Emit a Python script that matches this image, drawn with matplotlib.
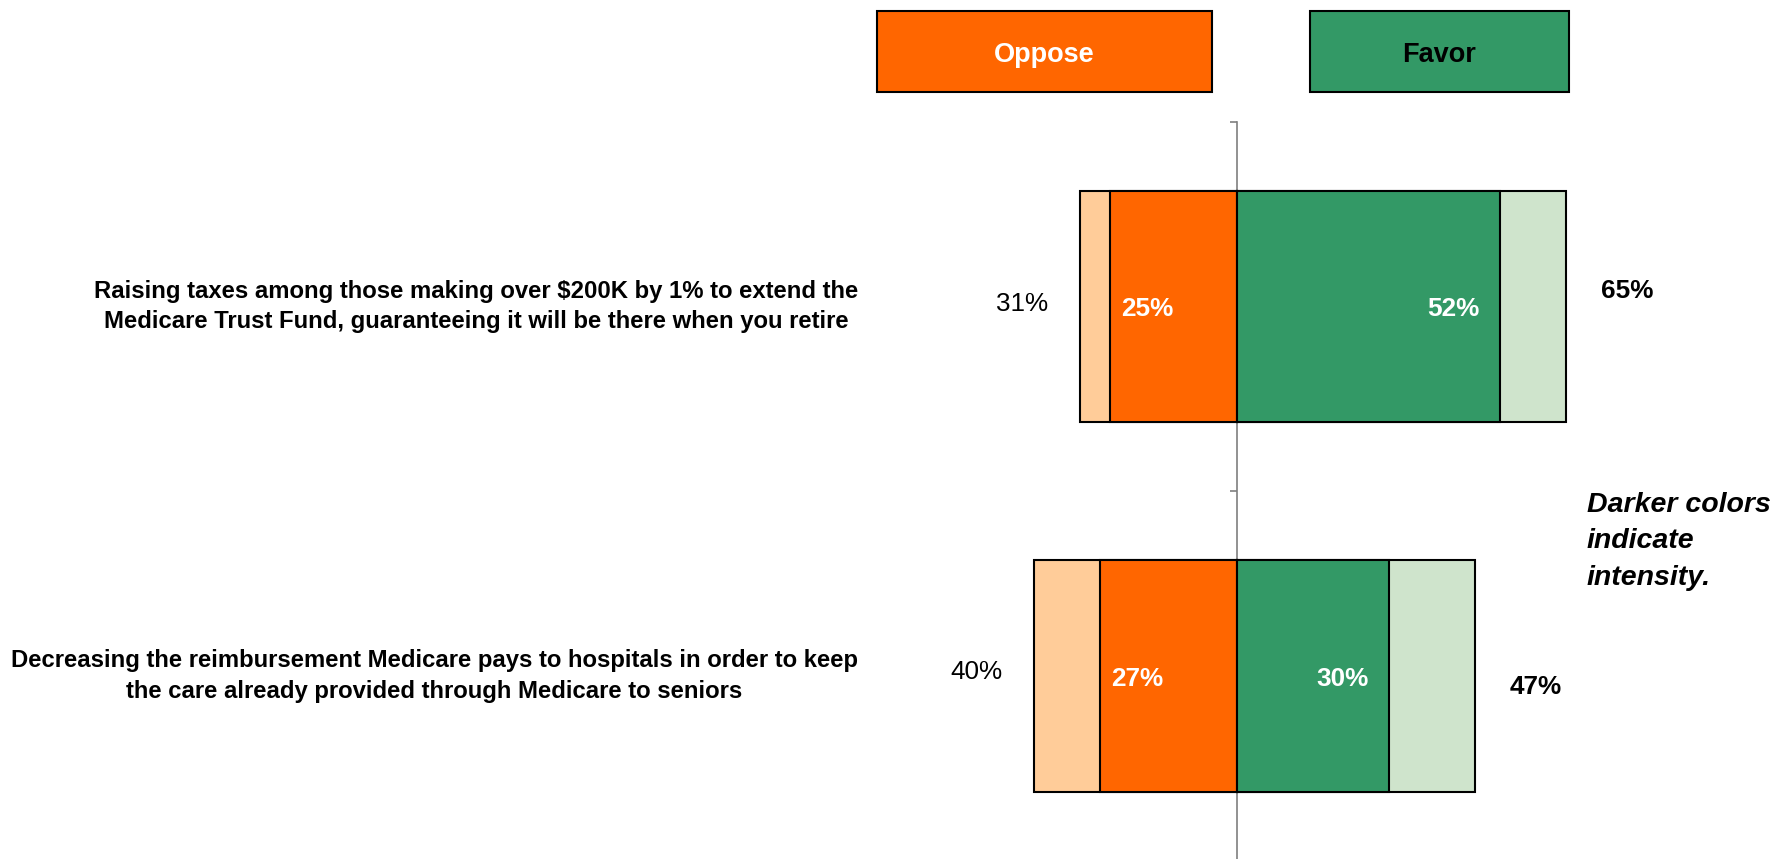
import matplotlib
matplotlib.use("Agg")
import matplotlib.pyplot as plt
from matplotlib.patches import Rectangle

plt.rcParams['font.family'] = ['Liberation Sans', 'DejaVu Sans']

# ---- data ----
categories = [
    "Raising taxes among those making over $200K by 1% to extend the\n"
    "Medicare Trust Fund, guaranteeing it will be there when you retire",
    "Decreasing the reimbursement Medicare pays to hospitals in order to keep\n"
    "the care already provided through Medicare to seniors",
]
strong_oppose = [25, 27]
total_oppose = [31, 40]
strong_favor = [52, 30]
total_favor = [65, 47]
series_names = ["Oppose", "Favor"]
note_text = "Darker colors\nindicate\nintensity."

# ---- style ----
DARK_OR = "#FF6600"
LIGHT_OR = "#FFCC99"
DARK_GR = "#339966"
LIGHT_GR = "#CFE4CC"
AXIS_GRAY = "#7F7F7F"

W, H = 1779, 859
fig = plt.figure(figsize=(W / 100, H / 100), dpi=100)

def fx(px):
    return px / W

def fy(py):
    return 1 - py / H

# axes: full width, y band from pixel 121.7 to 861
top_px, bot_px = 121.7, 861.0
ax = fig.add_axes([0, fy(bot_px), 1, (bot_px - top_px) / H])
ax.patch.set_visible(False)

px_per_unit = 5.06
center_px = 1236.7
ax.set_xlim(-center_px / px_per_unit, (W - center_px) / px_per_unit)
ax.set_ylim(0, len(categories))

n = len(categories)
ys = [n - i - 0.5 for i in range(n)]
bar_h = 0.626
ew = 1.5

ax.barh(ys, [-v for v in total_oppose], height=bar_h, color=LIGHT_OR,
        edgecolor="black", linewidth=ew, zorder=3)
ax.barh(ys, [-v for v in strong_oppose], height=bar_h, color=DARK_OR,
        edgecolor="black", linewidth=ew, zorder=4)
ax.barh(ys, total_favor, height=bar_h, color=LIGHT_GR,
        edgecolor="black", linewidth=ew, zorder=3)
ax.barh(ys, strong_favor, height=bar_h, color=DARK_GR,
        edgecolor="black", linewidth=ew, zorder=4)

# spines / ticks
for s in ["top", "right", "bottom"]:
    ax.spines[s].set_visible(False)
ax.spines["left"].set_position(("data", 0))
ax.spines["left"].set_color(AXIS_GRAY)
ax.spines["left"].set_linewidth(1.2)
ax.spines["left"].set_zorder(2)
ax.set_xticks([])
ax.set_yticks(range(n + 1))
ax.tick_params(axis="y", length=5, width=1.2, color=AXIS_GRAY,
               direction="out", labelleft=False)

fs = 18.8
# small vertical nudges (in points) of the favor-total labels, as in the original
favor_label_nudge = [11, -8]
oppose_label_nudge = [2, 3]
for i, y in enumerate(ys):
    ax.annotate(f"{total_oppose[i]}%", (-total_oppose[i] - 6.3, y),
                xytext=(0, oppose_label_nudge[i]), textcoords="offset points",
                ha="right", va="center", fontsize=fs, color="black", zorder=5)
    ax.annotate(f"{strong_oppose[i]}%", (-strong_oppose[i] + 2.2, y),
                xytext=(0, -2), textcoords="offset points",
                ha="left", va="center", fontsize=fs, color="white",
                fontweight="bold", zorder=5)
    ax.annotate(f"{strong_favor[i]}%", (strong_favor[i] - 4.0, y),
                xytext=(0, -2), textcoords="offset points",
                ha="right", va="center", fontsize=fs, color="white",
                fontweight="bold", zorder=5)
    ax.annotate(f"{total_favor[i]}%", (total_favor[i] + 7.0, y),
                xytext=(0, favor_label_nudge[i]), textcoords="offset points",
                ha="left", va="center", fontsize=fs, color="black",
                fontweight="bold", zorder=5)
    ax.text((858 - center_px) / px_per_unit, y, categories[i], ha="right",
            va="center", multialignment="center", fontsize=17.2,
            fontweight="bold", color="black", linespacing=1.42)

# legend boxes
boxes = [(877, 1212, DARK_OR, "white"), (1310, 1569, DARK_GR, "black")]
for (x0, x1, fc, tc), name in zip(boxes, series_names):
    y0, y1 = 11, 92
    fig.add_artist(Rectangle((fx(x0), fy(y1)), fx(x1) - fx(x0), fy(y0) - fy(y1),
                             transform=fig.transFigure, facecolor=fc,
                             edgecolor="black", linewidth=1.5))
    fig.text(fx((x0 + x1) / 2), fy(62.5), name, ha="center",
             va="baseline", fontsize=19.5, fontweight="bold", color=tc)

# note
fig.text(fx(1587), fy(492), note_text, ha="left", va="top", fontsize=20.5,
         fontweight="bold", fontstyle="italic", color="black", linespacing=1.52)

fig.savefig("out.png", dpi=100, facecolor="white")
